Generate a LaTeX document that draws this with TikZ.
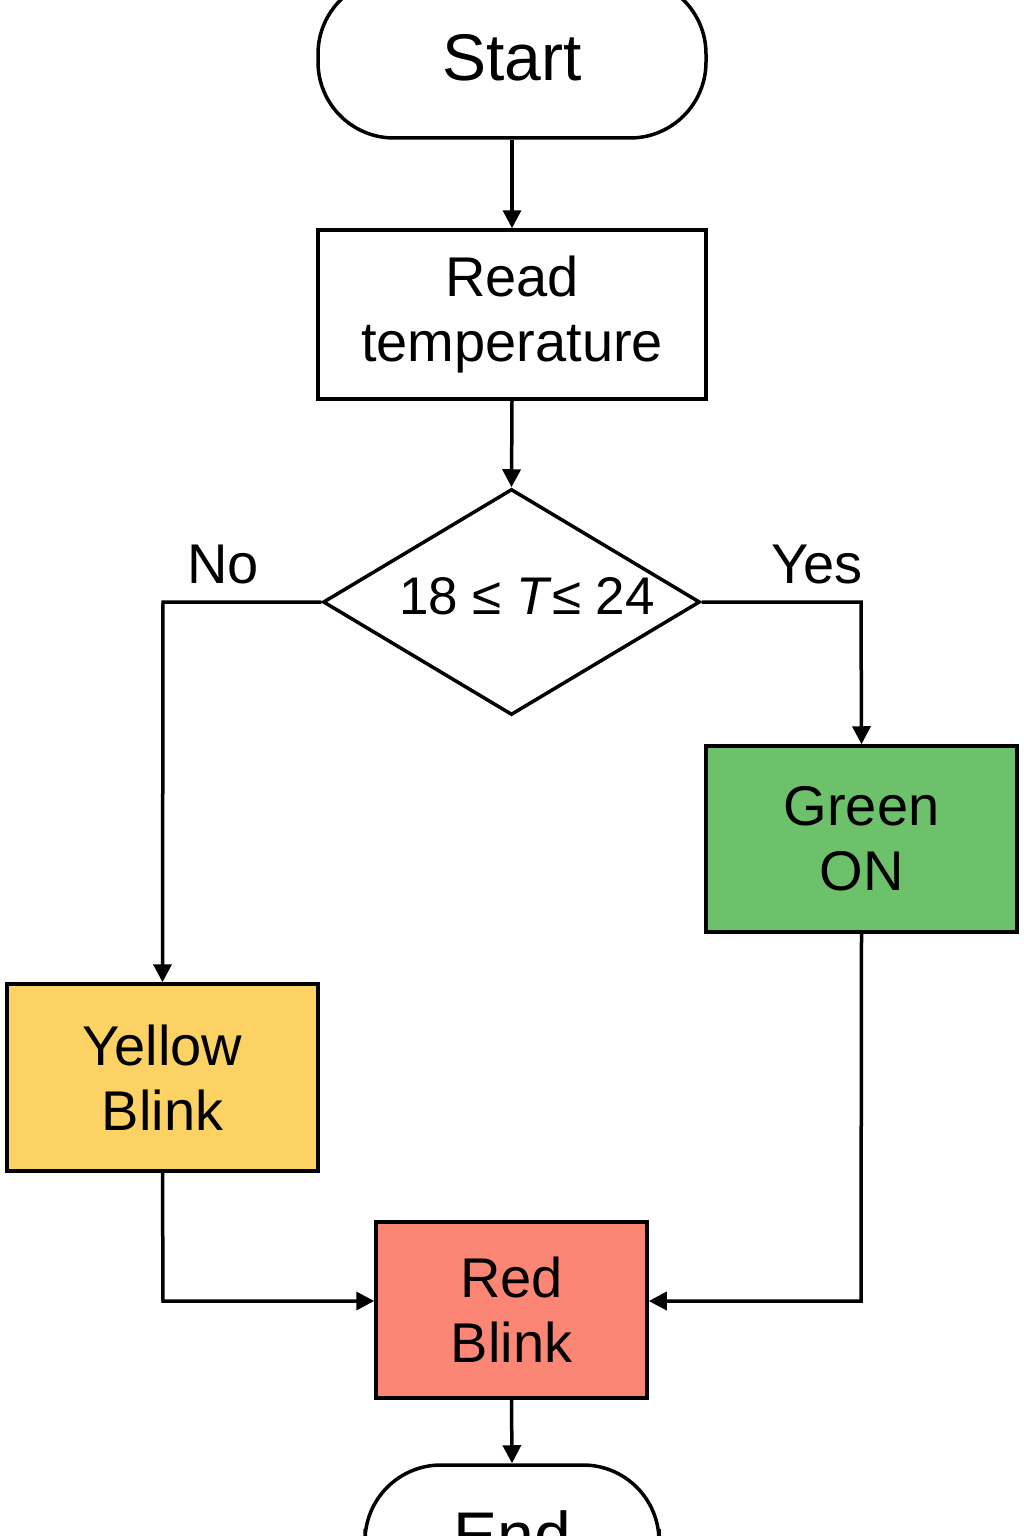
\documentclass[tikz,border=0pt]{standalone}
\usepackage{fontspec}
\setmainfont{Liberation Sans}
\usetikzlibrary{arrows.meta,shapes.geometric}
\definecolor{gfill}{HTML}{6CC16A}
\definecolor{yfill}{HTML}{FDD264}
\definecolor{rfill}{HTML}{FC8675}
\tikzset{
  x=1pt,y=-1pt,
  conn/.style={line width=3.5pt,-{Triangle[length=18pt,width=18pt]}},
  txt/.style={font=\fontsize{56}{65}\selectfont,align=center},
  term/.style={draw,line width=3.5pt,rounded corners=76pt,inner sep=0pt,font=\fontsize{66}{75}\selectfont},
  proc/.style={draw,line width=3.5pt,inner sep=0pt,txt},
}
\begin{document}
\begin{tikzpicture}
\useasboundingbox (0,0) rectangle (1024,1536);
\begin{scope}
\clip (0,0) rectangle (1024,1536);
\node[term,minimum width=388pt,minimum height=160pt] (start) at (512,58) {Start};
\node[proc,minimum width=388pt,minimum height=169pt] (read) at (512,314.5) {Read\\temperature};
\node[diamond,draw,line width=3.5pt,minimum width=377pt,minimum height=226pt,inner sep=0pt] (dec) at (511.5,602) {};
\node[txt,font=\fontsize{53}{60}\selectfont,anchor=center] (cond) at (527,596) {18 ≤ \textit{T}≤ 24};
\node[proc,fill=gfill,minimum width=311pt,minimum height=186pt] (green) at (861.5,839) {Green\\ON};
\node[proc,fill=yfill,minimum width=311pt,minimum height=187pt] (yellow) at (162.5,1077.5) {Yellow\\Blink};
\node[proc,fill=rfill,minimum width=271pt,minimum height=176pt] (red) at (511.5,1310) {Red\\Blink};
\node[term,minimum width=294pt,minimum height=140pt] (end) at (512,1535) {End};
\node[txt] (no) at (223,565) {No};
\node[txt] (yes) at (817,565) {Yes};
\coordinate (cl) at (163,602);
\coordinate (cr) at (861,602);
\coordinate (cyl) at (163,1301);
\coordinate (cgr) at (861,1301);
\draw[conn] (start.south) -- (read.north);
\draw[conn] (read.south) -- (dec.north);
\draw[conn] (dec.west) -- (cl) -- (yellow.north);
\draw[conn] (dec.east) -- (cr) -- (green.north);
\draw[conn] (yellow.south) -- (cyl) -- (red.west |- cyl);
\draw[conn] (green.south) -- (cgr) -- (red.east |- cgr);
\draw[conn] (red.south) -- (end.north);
\end{scope}
\end{tikzpicture}
\end{document}
